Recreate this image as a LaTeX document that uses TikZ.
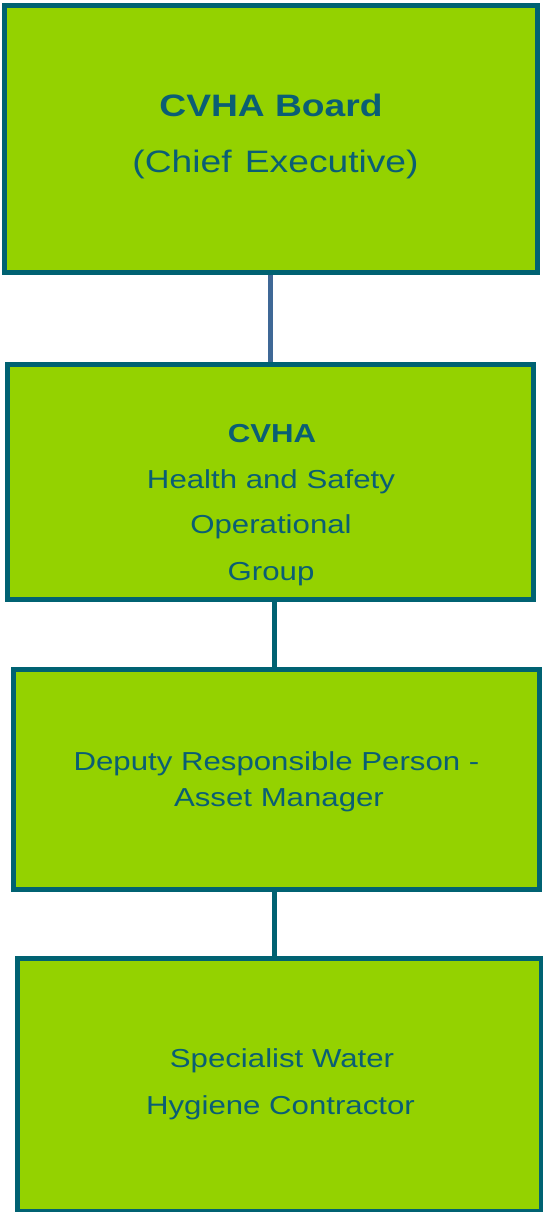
\documentclass[tikz,border=0pt]{standalone}
\usepackage{fontspec}
\setmainfont{Liberation Sans}[FakeStretch=1.2]
\usetikzlibrary{backgrounds}
\definecolor{boxfill}{HTML}{94D200}
\definecolor{boxline}{HTML}{006272}
\definecolor{txt}{HTML}{0A5E74}
\definecolor{linkblue}{HTML}{3F6896}
\tikzset{
  x=1pt, y=-1pt,
  orgbox/.style={draw=boxline, fill=boxfill, line width=5pt, rectangle, inner sep=0pt},
  lab/.style={text=txt, anchor=base, inner sep=0pt, font=\fontsize{26}{26}\selectfont},
  biglab/.style={lab, font=\fontsize{31}{31}\selectfont},
  link/.style={line width=5pt, draw=boxline},
}
\begin{document}
\begin{tikzpicture}
\useasboundingbox (0,0) rectangle (543,1212);
\node[orgbox, minimum width=532.5pt, minimum height=266.5pt] (B1) at (270.75,138.75) {};
\node[orgbox, minimum width=526pt, minimum height=235.5pt] (B2) at (270,481.75) {};
\node[orgbox, minimum width=525.5pt, minimum height=220pt] (B3) at (276.25,779.5) {};
\node[orgbox, minimum width=524pt, minimum height=253.5pt] (B4) at (279.5,1084.75) {};
\begin{scope}[on background layer]
\draw[link, draw=linkblue] ([xshift=-0.5pt]B1.south) -- ([xshift=-0.5pt]B1.south |- B2.north);
\draw[link] ([xshift=4pt]B2.south) -- ([xshift=4pt]B2.south |- B3.north);
\draw[link] ([xshift=-2pt]B3.south) -- ([xshift=-2pt]B3.south |- B4.north);
\end{scope}
\node[biglab, font=\bfseries\fontsize{31}{31}\selectfont] (t1a) at (271,117) {CVHA Board};
\node[biglab] (t1b) at (275.5,172) {(Chief\hspace{3pt} Executive)};
\node[lab, font=\bfseries\fontsize{26}{26}\selectfont] (t2a) at (272,442) {CVHA};
\node[lab] (t2b) at (271,488) {Health and Safety};
\node[lab] (t2c) at (271,533) {Operational};
\node[lab] (t2d) at (271,580) {Group};
\node[lab] (t3a) at (276.5,770) {Deputy Responsible Person -};
\node[lab] (t3b) at (279,806) {Asset Manager};
\node[lab] (t4a) at (282,1067) {Specialist Water};
\node[lab] (t4b) at (280.5,1114) {Hygiene Contractor};
\end{tikzpicture}
\end{document}
